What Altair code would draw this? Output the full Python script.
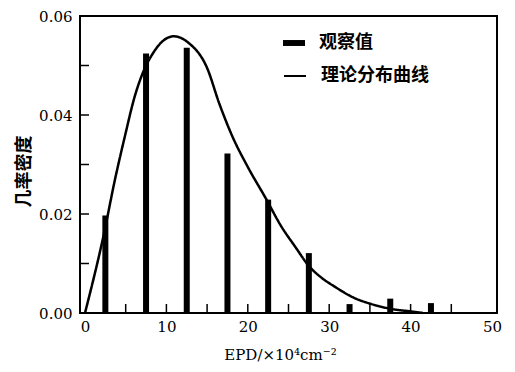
import altair as alt
import pandas as pd

# observed densities (bars)
bin_centers = [2.5, 7.5, 12.5, 17.5, 22.5, 27.5, 32.5, 37.5, 42.5]
observed = [0.0197, 0.0524, 0.0536, 0.0322, 0.0229, 0.0121, 0.0018, 0.0029, 0.0020]

# theoretical curve
curve_x = [0, 2.3, 3.7, 4.9, 6.1, 7.2, 8.4, 9.6, 10.9, 12.7, 15.0, 16.5, 18.1,
           20.0, 22.3, 24.0, 25.9, 27.5, 29.0, 30.7, 33.0, 35.2, 37.7, 40.1, 41.5]
curve_y = [0, 0.0158, 0.0271, 0.0357, 0.0437, 0.0489, 0.0526, 0.0550, 0.0559,
           0.0546, 0.0495, 0.0423, 0.0357, 0.0295, 0.0229, 0.0178, 0.0132, 0.0095,
           0.0072, 0.0053, 0.0031, 0.0018, 0.0008, 0.0003, 0.0]

x_label_values = [0, 10, 20, 30, 40, 50]
y_label_values = [0.0, 0.02, 0.04, 0.06]
x_minor_ticks = [5, 10, 15, 20, 25, 30, 35, 40, 45]
y_minor_ticks = [0.01, 0.02, 0.03, 0.04, 0.05]

bar_label = "观察值"
line_label = "理论分布曲线"

bars_df = pd.DataFrame({"x": bin_centers, "y": observed, "s": [bar_label] * len(bin_centers)})
curve_df = pd.DataFrame({"x": curve_x, "y": curve_y, "s": [line_label] * len(curve_x)})
xt_df = pd.DataFrame({"x": x_minor_ticks})
yt_df = pd.DataFrame({"y": y_minor_ticks})

SERIF = "DejaVu Serif"
CJK = "Noto Sans CJK SC"

W, H = 417, 297

xscale = alt.Scale(domain=[0, 50], nice=False, zero=False)
yscale = alt.Scale(domain=[0, 0.06], nice=False)

x_axis = alt.Axis(values=x_label_values, ticks=False, domain=False, grid=False,
                  labelFont=SERIF, labelFontSize=15, labelColor="black",
                  labelPadding=6, labelFlush=False,
                  title="EPD/×10⁴cm⁻²", titleFont=SERIF, titleFontSize=15,
                  titleFontWeight="normal", titleColor="black",
                  titleX=200, titleY=41, titleAlign="center", titleBaseline="middle")
y_axis = alt.Axis(values=y_label_values, ticks=False, domain=False, grid=False,
                  format=".2f", labelFont=SERIF, labelFontSize=15, labelColor="black",
                  labelPadding=8,
                  title="几率密度", titleFont=CJK, titleFontSize=18,
                  titleFontWeight="bold", titleColor="black",
                  titleX=-56, titleY=155, titleAlign="center", titleBaseline="middle")

bars = alt.Chart(bars_df).mark_bar(size=6).encode(
    x=alt.X("x:Q", scale=xscale, axis=x_axis),
    y=alt.Y("y:Q", scale=yscale, axis=y_axis),
    color=alt.Color("s:N", scale=alt.Scale(range=["black"]),
                    legend=alt.Legend(title=None, orient="none", legendX=203, legendY=16,
                                      symbolType="M-1,-0.27H1V0.27H-1Z", symbolSize=484,
                                      symbolStrokeWidth=0, labelOffset=14, padding=0,
                                      labelFont=CJK, labelFontSize=18, labelFontWeight="bold",
                                      labelColor="black")),
)

line = alt.Chart(curve_df).mark_line(color="black", strokeWidth=2.5, interpolate="monotone").encode(
    x=alt.X("x:Q", scale=xscale),
    y=alt.Y("y:Q", scale=yscale),
    strokeDash=alt.StrokeDash("s:N", scale=alt.Scale(range=[[1, 0]]),
                              legend=alt.Legend(title=None, orient="none", legendX=203, legendY=48,
                                                symbolType="stroke", symbolSize=484,
                                                symbolStrokeWidth=2, symbolStrokeColor="black",
                                                labelOffset=14, padding=0,
                                                labelFont=CJK, labelFontSize=18, labelFontWeight="bold",
                                                labelColor="black")),
)

xticks = alt.Chart(xt_df).mark_rule(color="black", strokeWidth=1.5).encode(
    x=alt.X("x:Q", scale=xscale),
    y=alt.value(H), y2=alt.value(H - 9),
)
yticks = alt.Chart(yt_df).mark_rule(color="black", strokeWidth=1.5).encode(
    y=alt.Y("y:Q", scale=yscale),
    x=alt.value(0), x2=alt.value(9),
)

chart = alt.layer(bars, line, xticks, yticks).properties(
    width=W, height=H,
    autosize=alt.AutoSizeParams(type="none"),
    padding={"left": 72, "top": 8, "right": 10, "bottom": 51},
    background="white",
).configure_view(stroke="black", strokeWidth=2).resolve_scale(color="independent")

chart.save("out.html", embed_options={"renderer": "svg", "actions": False})
